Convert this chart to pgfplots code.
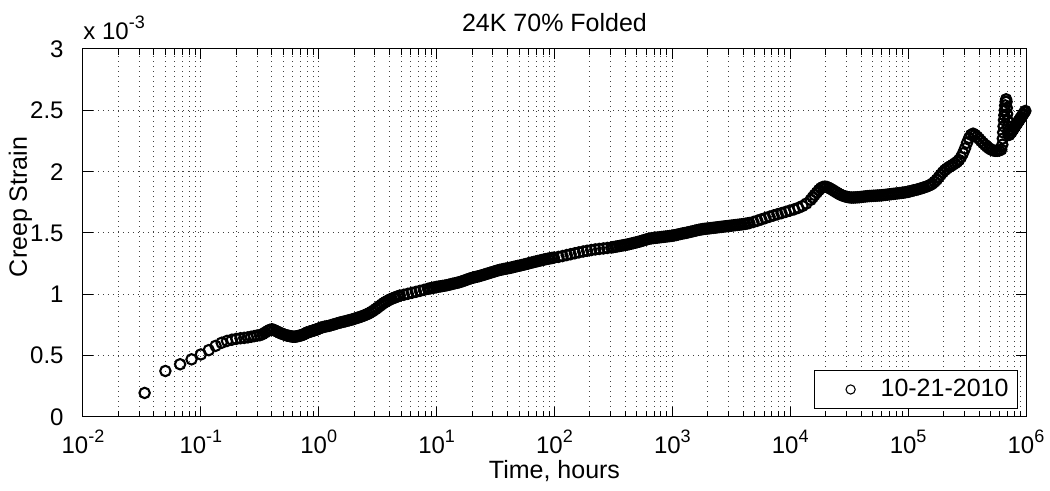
\documentclass[border=0pt]{standalone}
\usepackage{fontspec}
\setmainfont{Liberation Sans}
\usepackage{pgfplots}
\usepackage{pgfplotstable}
\pgfplotsset{compat=1.18}
\newcommand{\sps}[1]{\raisebox{5.5pt}{\fontsize{9}{9}\selectfont #1}}
\pgfplotstableread{
t v
0.033333 0.196
0.05 0.375
0.066667 0.43
0.083333 0.47
0.1 0.51
0.116667 0.545
0.133333 0.58
0.15 0.605
0.166667 0.62
0.183333 0.63
0.2 0.637
0.216667 0.642
0.233333 0.645
0.25 0.649
0.266667 0.654
0.283333 0.659
0.3 0.664
0.316667 0.667
0.333333 0.675
0.35 0.688
0.366667 0.70
0.383333 0.71
0.4 0.715
0.416667 0.71
0.433333 0.70
0.45 0.695
0.466667 0.685
0.483333 0.68
0.5 0.675
0.516667 0.67
0.533333 0.665
0.55 0.662
0.566667 0.66
0.583333 0.657
0.6 0.655
0.616667 0.655
0.633333 0.655
0.65 0.657
0.666667 0.66
0.683333 0.662
0.7 0.665
0.716667 0.667
0.733333 0.67
0.75 0.675
0.766667 0.68
0.783333 0.685
0.8 0.69
0.816667 0.692
0.833333 0.695
0.85 0.697
0.866667 0.70
0.883333 0.702
0.9 0.705
0.916667 0.707
0.933333 0.71
0.95 0.712
0.966667 0.715
0.983333 0.717
1.0 0.72
1.04 0.728
1.08 0.732
1.12 0.736
1.17 0.740
1.22 0.743
1.27 0.748
1.32 0.753
1.37 0.757
1.43 0.763
1.49 0.768
1.55 0.772
1.61 0.776
1.68 0.780
1.75 0.785
1.82 0.789
1.89 0.793
1.97 0.798
2.05 0.804
2.13 0.809
2.22 0.814
2.31 0.820
2.40 0.826
2.50 0.833
2.60 0.840
2.70 0.848
2.81 0.858
2.92 0.868
3.04 0.880
3.16 0.892
3.29 0.905
3.42 0.917
3.56 0.929
3.70 0.939
3.85 0.948
4.00 0.957
4.16 0.964
4.33 0.971
4.50 0.977
4.68 0.983
4.87 0.990
5.26 0.996
5.69 1.004
6.16 1.012
6.67 1.020
7.21 1.028
7.80 1.036
8.44 1.045
8.78 1.048
9.13 1.052
9.50 1.055
9.88 1.058
10.0 1.060
10.4 1.063
10.8 1.065
11.2 1.068
11.7 1.071
12.2 1.074
12.7 1.078
13.2 1.082
13.7 1.086
14.3 1.090
14.9 1.094
15.5 1.098
16.1 1.103
16.8 1.109
17.5 1.115
18.2 1.121
18.9 1.127
19.7 1.132
20.5 1.137
21.3 1.141
22.2 1.145
23.1 1.149
24.0 1.154
25.0 1.159
26.0 1.164
27.0 1.169
28.1 1.174
29.2 1.179
30.4 1.184
31.6 1.189
32.9 1.194
34.2 1.199
35.6 1.202
37.0 1.206
38.5 1.209
40.0 1.212
41.6 1.215
43.3 1.219
45.0 1.223
46.8 1.227
48.7 1.231
50.6 1.234
52.6 1.238
54.7 1.242
56.9 1.246
59.2 1.250
61.6 1.255
64.1 1.259
66.7 1.263
69.3 1.267
72.1 1.271
75.0 1.275
78.0 1.279
81.1 1.283
84.4 1.287
87.8 1.290
91.3 1.293
95.0 1.296
98.8 1.299
108 1.305
117 1.312
127 1.320
137 1.327
149 1.335
161 1.342
175 1.349
189 1.355
205 1.361
222 1.366
240 1.370
260 1.374
281 1.378
304 1.382
316 1.385
329 1.388
342 1.391
356 1.394
370 1.397
385 1.400
400 1.403
416 1.406
433 1.410
450 1.414
468 1.418
487 1.422
506 1.426
526 1.430
547 1.435
569 1.440
592 1.445
616 1.450
641 1.454
667 1.457
693 1.459
721 1.461
750 1.463
780 1.465
811 1.467
844 1.469
878 1.471
913 1.473
950 1.475
988 1.477
1000 1.478
1040 1.481
1080 1.484
1120 1.488
1170 1.492
1220 1.496
1270 1.499
1320 1.502
1370 1.506
1430 1.510
1490 1.514
1550 1.518
1610 1.522
1680 1.526
1750 1.529
1820 1.532
1890 1.534
1970 1.536
2050 1.538
2130 1.540
2220 1.542
2310 1.544
2400 1.546
2500 1.548
2600 1.550
2700 1.552
2810 1.554
2920 1.556
3040 1.558
3160 1.560
3290 1.562
3420 1.564
3560 1.566
3700 1.568
3850 1.570
4000 1.572
4160 1.575
4330 1.578
4500 1.581
4870 1.590
5260 1.600
5690 1.611
6160 1.622
6670 1.633
7210 1.643
7800 1.653
8440 1.662
9130 1.672
9880 1.682
10800 1.693
11700 1.705
12700 1.720
13700 1.740
14900 1.770
15500 1.790
16100 1.810
16800 1.830
17500 1.850
18200 1.865
18900 1.875
19700 1.878
20500 1.875
21300 1.868
22200 1.858
23100 1.848
24000 1.838
25000 1.828
26000 1.818
27000 1.810
28100 1.803
29200 1.798
30400 1.794
31600 1.791
32900 1.789
34200 1.789
35600 1.790
37000 1.791
38500 1.792
40000 1.794
41600 1.796
43300 1.798
45000 1.800
46800 1.801
48700 1.802
50600 1.803
52600 1.804
54700 1.805
56900 1.806
59200 1.807
61600 1.809
64100 1.811
66700 1.813
69300 1.815
72100 1.817
75000 1.819
78000 1.821
81100 1.823
84400 1.825
87800 1.827
91300 1.829
95000 1.832
98800 1.835
100000 1.836
104000 1.840
108000 1.844
112000 1.848
117000 1.852
122000 1.857
127000 1.862
132000 1.867
137000 1.872
143000 1.878
149000 1.885
155000 1.893
161000 1.903
168000 1.918
175000 1.935
182000 1.955
189000 1.975
197000 1.995
205000 2.012
213000 2.025
222000 2.037
231000 2.047
240000 2.057
250000 2.068
260000 2.080
270000 2.095
281000 2.118
292000 2.150
304000 2.190
316000 2.235
329000 2.275
342000 2.300
356000 2.310
370000 2.300
385000 2.285
400000 2.268
416000 2.250
433000 2.233
450000 2.218
468000 2.203
487000 2.190
506000 2.180
526000 2.173
547000 2.170
569000 2.170
592000 2.172
616000 2.180
630000 2.22
636000 2.27
640000 2.32
645000 2.37
650000 2.42
655000 2.46
660000 2.50
666000 2.54
672000 2.57
678000 2.59
684000 2.57
688000 2.52
692000 2.47
696000 2.42
700000 2.37
705000 2.33
710000 2.30
721000 2.30
735000 2.315
750000 2.32
765000 2.335
780000 2.345
795000 2.36
811000 2.37
827000 2.385
844000 2.395
861000 2.41
878000 2.42
895000 2.435
913000 2.445
931000 2.46
950000 2.47
969000 2.485
988000 2.495
}\creep
\begin{document}
\begin{tikzpicture}
\useasboundingbox (-41.5pt,-37pt) rectangle (483.5pt,208.5pt);
\begin{axis}[
  xmode=log, xmin=1e-2, xmax=1e6, ymin=0, ymax=3,
  width=471.5pt, height=184pt, scale only axis,
  xtick={1e-2,1e-1,1,10,100,1000,1e4,1e5,1e6},
  xticklabels={10\sps{-2},10\sps{-1},10\sps{0},10\sps{1},10\sps{2},10\sps{3},10\sps{4},10\sps{5},10\sps{6}},
  minor xtick={2e-2,3e-2,4e-2,5e-2,6e-2,7e-2,8e-2,9e-2,
    0.2,0.3,0.4,0.5,0.6,0.7,0.8,0.9,2,3,4,5,6,7,8,9,
    20,30,40,50,60,70,80,90,200,300,400,500,600,700,800,900,
    2000,3000,4000,5000,6000,7000,8000,9000,
    2e4,3e4,4e4,5e4,6e4,7e4,8e4,9e4,2e5,3e5,4e5,5e5,6e5,7e5,8e5,9e5},
  ytick={0,0.5,1,1.5,2,2.5,3},
  yticklabels={0,0.5,1,1.5,2,2.5,3},
  grid=both,
  major grid style={dash pattern=on 0.5pt off 2pt, black!75, line width=0.5pt},
  minor grid style={dash pattern=on 0.5pt off 2pt, black!75, line width=0.5pt},
  tick align=inside, xtick pos=both, ytick pos=both,
  major tick length=5pt, minor tick length=3pt,
  tick style={black, line width=0.5pt},
  axis line style={black, line width=0.5pt},
  tick label style={font=\fontsize{12}{14}\selectfont},
  xticklabel style={anchor=base, yshift=-18.5pt},
  yticklabel style={anchor=east, inner sep=0pt, xshift=-9.5pt},
  title={24K 70\% Folded},
  title style={font=\fontsize{12.5}{15}\selectfont, at={(axis description cs:0.5,1)}, anchor=base, yshift=2.5pt},
  xlabel={Time, hours},
  xlabel style={font=\fontsize{12.5}{15}\selectfont, at={(axis description cs:0.5,0)}, anchor=base, yshift=-31pt},
  ylabel={Creep Strain},
  ylabel style={font=\fontsize{12.5}{15}\selectfont, at={(axis description cs:-0.0594,0.571)}, anchor=base},
  legend cell align=left,
  legend style={at={(0.99152,0.02174)}, anchor=south east, draw=black, line width=0.5pt, fill=white, inner sep=0pt, nodes={inner sep=0pt, draw=none}, font=\fontsize{12.5}{15}\selectfont},
  legend image code/.code={\path[draw=none, fill=none] (0pt,-9.5pt) rectangle (33pt,9.5pt); \draw[#1, mark options={line width=0.55pt, black}, mark size=2.3pt] plot coordinates {(18pt,0pt)};},
]
\addplot[only marks, mark=o, mark size=2.6pt, mark options={line width=1.05pt, black}] table[x=t, y=v] {\creep};
\addlegendentry{10-21-2010\hspace*{4.5pt}}
\end{axis}
\node[anchor=base west, inner sep=0pt, font=\fontsize{12}{14}\selectfont] at (0pt,188.5pt) {x 10\sps{-3}};
\end{tikzpicture}
\end{document}
